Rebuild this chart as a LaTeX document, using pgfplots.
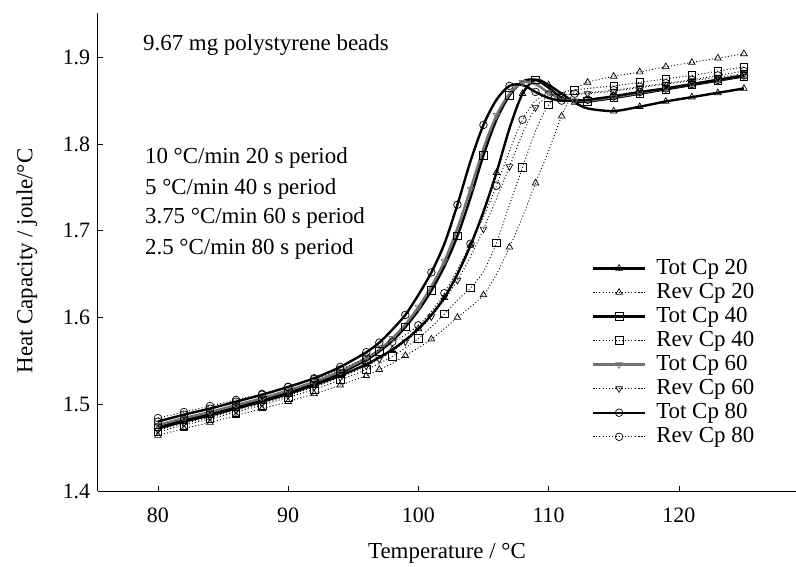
\documentclass[border=0pt]{standalone}
\usepackage{fontspec}
\setmainfont{Liberation Serif}
\usepackage{pgfplots}
\pgfplotsset{compat=1.18}

% total Cp: heavy solid lines, reversing Cp: thin dotted lines
% marks every ~2 degC on the common temperature grid (sets A and B)
\tikzset{
  totcp/.style={black, solid, line width=2.4bp, smooth, mark size=3.8bp,
    mark options={solid, line width=0.7bp}},
  revcp/.style={black, line width=0.9bp, smooth, dash pattern=on 1bp off 2.2bp,
    mark size=3.8bp, mark options={solid, line width=0.7bp}},
  mA/.style={mark indices={1,2,3,4,5,6,7,8,9,11,13,15,17,19,21,23,25,27,28,29,30,31,32}},
  mB/.style={mark indices={1,2,3,4,5,6,7,8,9,10,12,14,16,18,20,22,24,26,27,28,29,30,31,32}},
}

\begin{document}
\fontsize{23}{27}\selectfont
\begin{tikzpicture}
\path[use as bounding box] (-98bp,-76bp) rectangle (698bp,491bp);
\begin{axis}[
  scale only axis,
  width=698bp, height=478bp,
  xmin=75.4, xmax=129,
  ymin=1.4, ymax=1.951,
  axis x line*=bottom, axis y line*=left,
  axis line style={line width=1bp},
  xtick={80,90,100,110,120},
  ytick={1.4,1.5,1.6,1.7,1.8,1.9},
  yticklabel style={/pgf/number format/fixed, /pgf/number format/precision=1},
  tick label style={font=\fontsize{22}{26}\selectfont},
  xticklabel style={yshift=-9bp},
  /pgf/number format/assume math mode=true,
  tick align=inside, major tick length=5bp,
  tick style={black, line width=0.6bp},
  xlabel={Temperature / °C},
  ylabel={Heat Capacity / joule/°C},
  xlabel style={at={(axis description cs:0.5,-0.13)}, anchor=center},
  ylabel style={at={(axis description cs:-0.1017,0.481)}, anchor=center},
  legend style={at={(rel axis cs:0.703,0.494)}, anchor=north west,
    draw=none, fill=none, row sep=1.4bp,
    font=\fontsize{23}{27}\selectfont,
    /tikz/every odd column/.append style={column sep=8bp}},
  legend cell align=left,
  legend image code/.code={%
    \draw[mark indices={2}] plot coordinates {(0bp,0bp) (26bp,0bp) (52bp,0bp)};},
]

% Tot Cp 20
\addplot[totcp, mark=triangle, mA] coordinates {
(80,1.472)(82,1.480)(84,1.487)(86,1.495)(88,1.503)(90,1.512)(92,1.522)(94,1.533)
(96,1.546)(97,1.554)(98,1.563)(99,1.574)(100,1.587)(101,1.603)(102,1.623)(103,1.650)
(104,1.683)(105,1.722)(106,1.767)(107,1.818)(108,1.858)(109,1.874)(110,1.868)
(111,1.858)(112,1.848)(113,1.841)(115,1.838)(117,1.843)(119,1.849)(121,1.854)
(123,1.859)(125,1.864)};
\addlegendentry{Tot Cp 20}

% Rev Cp 20
\addplot[revcp, mark=triangle, mB] coordinates {
(80,1.464)(82,1.472)(84,1.479)(86,1.487)(88,1.495)(90,1.503)(92,1.512)(94,1.522)
(96,1.533)(97,1.540)(98,1.547)(99,1.556)(100,1.565)(101,1.575)(102,1.587)(103,1.600)
(104,1.612)(105,1.626)(106,1.650)(107,1.681)(108,1.716)(109,1.755)(110,1.792)
(111,1.832)(112,1.861)(113,1.871)(115,1.878)(117,1.883)(119,1.889)(121,1.894)
(123,1.899)(125,1.904)};
\addlegendentry{Rev Cp 20}

% Tot Cp 40
\addplot[totcp, mark=square, mB] coordinates {
(80,1.474)(82,1.482)(84,1.489)(86,1.497)(88,1.505)(90,1.514)(92,1.524)(94,1.536)
(96,1.551)(97,1.561)(98,1.573)(99,1.589)(100,1.608)(101,1.631)(102,1.659)(103,1.694)
(104,1.738)(105,1.787)(106,1.828)(107,1.856)(108,1.872)(109,1.874)(110,1.865)
(111,1.853)(112,1.849)(113,1.849)(115,1.853)(117,1.858)(119,1.863)(121,1.868)
(123,1.873)(125,1.878)};
\addlegendentry{Tot Cp 40}

% Rev Cp 40
\addplot[revcp, mark=square, mA] coordinates {
(80,1.468)(82,1.476)(84,1.483)(86,1.491)(88,1.499)(90,1.508)(92,1.517)(94,1.528)
(96,1.540)(97,1.547)(98,1.555)(99,1.565)(100,1.576)(101,1.589)(102,1.604)(103,1.620)
(104,1.634)(105,1.653)(106,1.686)(107,1.730)(108,1.773)(109,1.815)(110,1.845)
(111,1.859)(112,1.862)(113,1.864)(115,1.867)(117,1.871)(119,1.875)(121,1.879)
(123,1.884)(125,1.889)};
\addlegendentry{Rev Cp 40}

% Tot Cp 60
\addplot[totcp, black!55, mark=triangle,
  mark options={solid, line width=0.7bp, rotate=180}, mA] coordinates {
(80,1.476)(82,1.484)(84,1.491)(86,1.499)(88,1.507)(90,1.516)(92,1.526)(94,1.538)
(96,1.553)(97,1.563)(98,1.576)(99,1.592)(100,1.612)(101,1.636)(102,1.665)(103,1.703)
(104,1.748)(105,1.795)(106,1.833)(107,1.858)(108,1.871)(109,1.869)(110,1.859)
(111,1.852)(112,1.850)(113,1.850)(115,1.854)(117,1.859)(119,1.864)(121,1.869)
(123,1.874)(125,1.879)};
\addlegendentry{Tot Cp 60}

% Rev Cp 60
\addplot[revcp, mark=triangle,
  mark options={solid, line width=0.7bp, rotate=180}, mB] coordinates {
(80,1.470)(82,1.478)(84,1.485)(86,1.493)(88,1.501)(90,1.510)(92,1.520)(94,1.531)
(96,1.544)(97,1.552)(98,1.561)(99,1.572)(100,1.585)(101,1.601)(102,1.620)(103,1.643)
(104,1.670)(105,1.702)(106,1.737)(107,1.774)(108,1.812)(109,1.842)(110,1.855)
(111,1.857)(112,1.857)(113,1.858)(115,1.861)(117,1.865)(119,1.869)(121,1.873)
(123,1.877)(125,1.881)};
\addlegendentry{Rev Cp 60}

% Tot Cp 80
\addplot[totcp, mark=o, mB] coordinates {
(80,1.480)(82,1.488)(84,1.495)(86,1.503)(88,1.511)(90,1.520)(92,1.530)(94,1.543)
(96,1.560)(97,1.571)(98,1.586)(99,1.603)(100,1.626)(101,1.652)(102,1.685)(103,1.730)
(104,1.780)(105,1.822)(106,1.851)(107,1.867)(108,1.868)(109,1.860)(110,1.853)
(111,1.850)(112,1.850)(113,1.851)(115,1.855)(117,1.860)(119,1.864)(121,1.869)
(123,1.874)(125,1.879)};
\addlegendentry{Tot Cp 80}

% Rev Cp 80
\addplot[revcp, mark=o, mA] coordinates {
(80,1.484)(82,1.491)(84,1.498)(86,1.505)(88,1.512)(90,1.520)(92,1.529)(94,1.540)
(96,1.554)(97,1.563)(98,1.572)(99,1.580)(100,1.591)(101,1.607)(102,1.628)(103,1.655)
(104,1.685)(105,1.716)(106,1.752)(107,1.792)(108,1.828)(109,1.850)(110,1.857)
(111,1.857)(112,1.858)(113,1.859)(115,1.862)(117,1.866)(119,1.870)(121,1.874)
(123,1.879)(125,1.884)};
\addlegendentry{Rev Cp 80}

\node[anchor=base west, inner sep=0pt] at (axis cs:78.85,1.908) {9.67 mg polystyrene beads};
\node[anchor=base west, inner sep=0pt] at (axis cs:79.0,1.777) {10 °C/min 20 s period};
\node[anchor=base west, inner sep=0pt] at (axis cs:79.0,1.742) {5 °C/min 40 s period};
\node[anchor=base west, inner sep=0pt] at (axis cs:79.0,1.708) {3.75 °C/min 60 s period};
\node[anchor=base west, inner sep=0pt] at (axis cs:79.0,1.673) {2.5 °C/min 80 s period};

\end{axis}
\end{tikzpicture}
\end{document}
